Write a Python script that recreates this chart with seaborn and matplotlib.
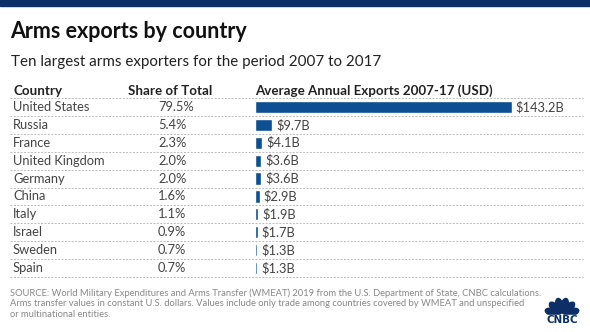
import matplotlib
matplotlib.use("Agg")
import matplotlib.pyplot as plt
import matplotlib.transforms as mtransforms
from matplotlib.lines import Line2D
from matplotlib.patches import Ellipse, Rectangle
import seaborn as sns
import pandas as pd
import numpy as np

countries = ["United States", "Russia", "France", "United Kingdom", "Germany",
             "China", "Italy", "Israel", "Sweden", "Spain"]
shares = ["79.5%", "5.4%", "2.3%", "2.0%", "2.0%", "1.6%", "1.1%", "0.9%", "0.7%", "0.7%"]
exports = [143.2, 9.7, 4.1, 3.6, 3.6, 2.9, 1.9, 1.7, 1.3, 1.3]
labels = ["$143.2B", "$9.7B", "$4.1B", "$3.6B", "$3.6B", "$2.9B", "$1.9B", "$1.7B", "$1.3B", "$1.3B"]

df = pd.DataFrame({"country": countries, "exports": exports})

sns.set_theme(style="white")
plt.rcParams["font.family"] = ["Lato", "DejaVu Sans"]

W, H = 590, 332
fig = plt.figure(figsize=(W / 100, H / 100), dpi=100)
fig.patch.set_facecolor("white")

def fx(px):
    return px / W

def fy(py):
    return 1 - py / H

# top band
fig.add_artist(Rectangle((0, fy(6)), 1, 6 / H, transform=fig.transFigure,
                         color="#0b2f66", zorder=0))

fig.text(fx(10), fy(32), "Arms exports by country", fontsize=15.5, fontweight="bold",
         color="#111111", va="center", ha="left")
fig.text(fx(11), fy(62), "Ten largest arms exporters for the period 2007 to 2017",
         fontsize=10.9, color="#222222", va="center", ha="left")

# bar axes
row_top, row_h = 98, 17.9
ax_left, ax_right = 255, 583
ax_top = row_top
ax_bottom = row_top + row_h * 10
ax = fig.add_axes([fx(ax_left), fy(ax_bottom), (ax_right - ax_left) / W, (ax_bottom - ax_top) / H])
sns.barplot(data=df, x="exports", y="country", color="#0d4f93", width=0.68,
            saturation=1, ax=ax, orient="h")
scale = 1.795  # px per billion
ax.set_xlim(0, (ax_right - ax_left) / scale)
ax.set_ylim(9.5, -0.5)
ax.axis("off")

blend = mtransforms.blended_transform_factory(fig.transFigure, ax.transData)
FS = 9.3
for i, (c, s, v, lab) in enumerate(zip(countries, shares, exports, labels)):
    ax.text(fx(13), i, c, transform=blend, fontsize=FS, color="#444444",
            va="center", ha="left")
    ax.text(fx(158), i, s, transform=blend, fontsize=FS, color="#444444",
            va="center", ha="left")
    ax.text(v + 2.0, i, lab, fontsize=FS, color="#444444", va="center", ha="left")

for k in range(11):
    y = k - 0.5
    ax.add_artist(Line2D([fx(10), fx(583)], [y, y], transform=blend, clip_on=False,
                         color="#bbbbbb", lw=0.7, ls=(0, (2, 1.5))))

# headers
hy = fy(91)
HFS = 9.6
fig.text(fx(13), hy, "Country", fontsize=HFS, fontweight="bold", color="#222222",
         va="center", ha="left")
fig.text(fx(128), hy, "Share of Total", fontsize=HFS, fontweight="bold", color="#222222",
         va="center", ha="left")
fig.text(fx(255), hy, "Average Annual Exports 2007-17 (USD)", fontsize=HFS,
         fontweight="bold", color="#222222", va="center", ha="left")

# footer
foot_lines = [
    "SOURCE: World Military Expenditures and Arms Transfer (WMEAT) 2019 from the U.S. Department of State, CNBC calculations.",
    "Arms transfer values in constant U.S. dollars. Values include only trade among countries covered by WMEAT and unspecified",
    "or multinational entities.",
]
for j, line in enumerate(foot_lines):
    fig.text(fx(10), fy(293 + 10.6 * j), line, fontsize=6.75, color="#888888",
             va="center", ha="left")

# CNBC logo
lax = fig.add_axes([fx(540), fy(324), 44 / W, 30 / H])
lax.set_xlim(0, 44)
lax.set_ylim(0, 30)
lax.axis("off")
cx, cy = 22, 8.5
for ang in [-72, -43, -14, 14, 43, 72]:
    r = 10
    a = np.deg2rad(90 - ang)
    lax.add_patch(Ellipse((cx + r * np.cos(a), cy + r * np.sin(a)), 7.2, 15,
                          angle=-ang, color="#0b2f66"))
lax.add_patch(Rectangle((0, 0), 44, 9.0, color="white"))
lax.text(22, 4.3, "CNBC", fontsize=7.4, fontweight="heavy", color="#0b2f66",
         ha="center", va="center", family="DejaVu Sans")

fig.savefig("out.png", dpi=100, facecolor="white")
